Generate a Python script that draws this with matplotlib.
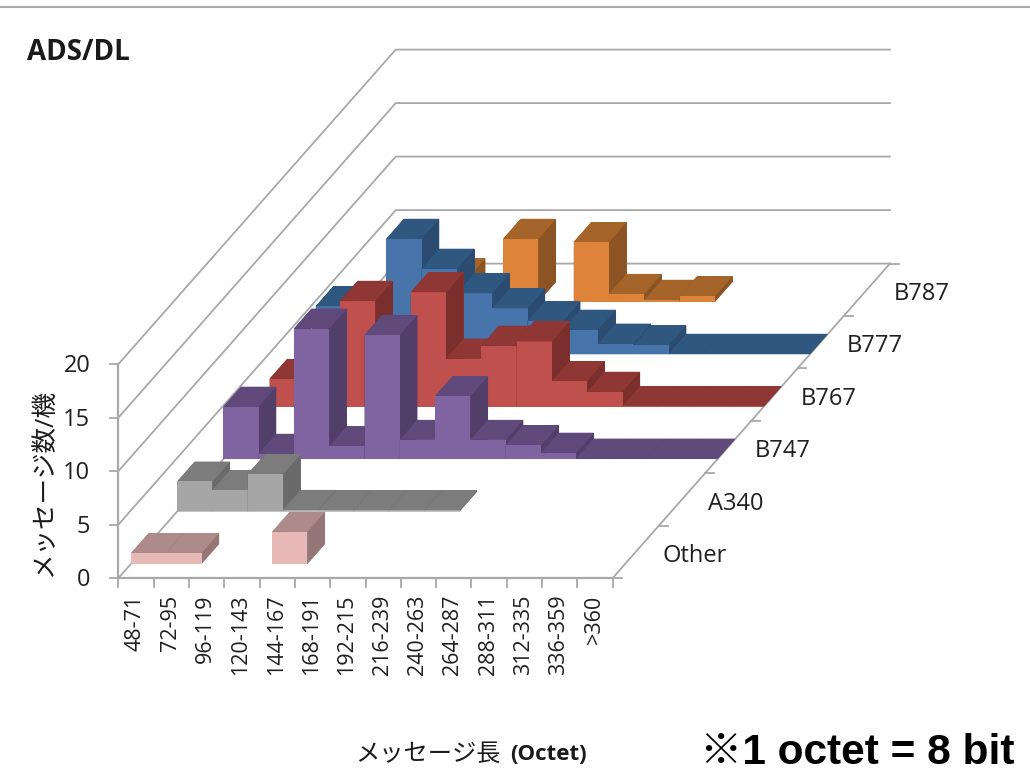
import numpy as np
import matplotlib
matplotlib.use('Agg')
import matplotlib.pyplot as plt
from matplotlib.lines import Line2D

plt.rcParams['font.family'] = ['Open Sans', 'Noto Sans CJK JP', 'DejaVu Sans']

# Datos (mensajes por avion)
categories = ['48-71', '72-95', '96-119', '120-143', '144-167', '168-191', '192-215',
              '216-239', '240-263', '264-287', '288-311', '312-335', '336-359', '>360']
series_names = ['Other', 'A340', 'B747', 'B767', 'B777', 'B787']
z_ticks = [0, 5, 10, 15, 20]

other = [1.0, 1.0, 0, 0, 3.0, 0, 0, 0, 0, 0, 0, 0, 0, 0]
a340 = [2.8, 2.0, 3.5, 0.15, 0.1, 0.1, 0.1, 0.1, 0, 0, 0, 0, 0, 0]
b747 = [4.9, 0.5, 12.2, 1.2, 11.6, 1.8, 5.9, 1.8, 1.3, 0.6, 0.05, 0.05, 0.05, 0.05]
b767 = [2.6, 2.0, 9.9, 2.0, 10.7, 4.5, 5.7, 6.1, 2.4, 1.4, 0.05, 0.05, 0.05, 0.05]
b777 = [4.5, 2.5, 10.8, 8.0, 5.7, 4.3, 3.1, 2.3, 1.0, 0.85, 0.05, 0.05, 0.05, 0.05]
b787 = [0, 0, 2.2, 0, 5.9, 0, 5.6, 0.75, 0.2, 0.55, 0, 0, 0, 0]
values = [other, a340, b747, b767, b777, b787]

# colores: frente, arriba, lado
colors = [('#E6B9B8', '#AD8B8A', '#937675'),
          ('#A6A6A6', '#7C7C7C', '#6A6A6A'),
          ('#8064A2', '#604A7B', '#523F69'),
          ('#C0504D', '#8F3735', '#7A2F2D'),
          ('#4774AA', '#30577F', '#2B4B70'),
          ('#DD843A', '#A5642A', '#8C5424')]
grid_color = '#A8A8A8'
text_color = '#1F1F1F'

W, H = 1030, 772
# Origen y escalas de la proyeccion, en pixeles
OX, OY = 118.5, 194
SX, DX = 35.3, 46.2
DY, SZ = 52.4, 10.7

fig = plt.figure(figsize=(W / 100, H / 100), dpi=100)
ax = fig.add_axes([0, 0, 1, W / H], projection='3d', proj_type='ortho')
ax.set_axis_off()
ax.computed_zorder = False


# Proyeccion oblicua como la de Excel: el eje x queda horizontal y el eje y
# sale en diagonal, sin perspectiva. Pasa de datos a pixeles de la figura.
def oblique_proj():
    x0, x1 = ax.viewLim.intervalx
    y0, y1 = ax.viewLim.intervaly
    sx = (x1 - x0) / W
    sy = (y1 - y0) / W
    return np.array([
        [SX * sx, DX * sx, 0, OX * sx + x0],
        [0, DY * sy, SZ * sy, OY * sy + y0],
        [-0.3, 1, -0.1, 0],
        [0, 0, 0, 1]])


ax.get_proj = oblique_proj


# Posicion de un texto en la figura a partir de coordenadas de datos
def label_pos(x, y, z):
    return (OX + SX * x + DX * y) / W, (OY + DY * y + SZ * z) / H


n_x = len(categories)
n_y = len(series_names)
top = z_ticks[-1]

# Paredes y piso
for z in z_ticks:
    ax.plot([0, 0, n_x], [0, n_y, n_y], [z, z, z], color=grid_color, lw=1.3, zorder=1)
ax.plot([0, 0], [0, 0], [0, top], color=grid_color, lw=1.6, zorder=2)
ax.plot([0, n_x], [0, 0], [0, 0], color=grid_color, lw=1.6, zorder=2)
ax.plot([n_x, n_x], [0, n_y], [0, 0], color=grid_color, lw=1.3, zorder=2)

for i in range(n_x + 1):
    ax.plot([i, i], [0, 0], [0, -0.85], color=grid_color, lw=1.3, zorder=2)
for z in z_ticks:
    ax.plot([-0.25, 0], [0, 0], [z, z], color=grid_color, lw=1.3, zorder=2)
for r in range(n_y + 1):
    ax.plot([n_x, n_x + 0.25], [r, r], [0, 0], color=grid_color, lw=1.3, zorder=2)

# Barras: de atras hacia adelante y de izquierda a derecha
order = 10
for r in range(n_y - 1, -1, -1):
    front, up, side = colors[r]
    for k in range(n_x):
        h = values[r][k]
        if h <= 0:
            continue
        # orden de caras en bar3d: abajo, arriba, frente, atras, izquierda, derecha
        ax.bar3d(k, r + 0.27, 0, 1, 0.38, h, color=[up, up, front, up, side, side],
                 shade=False, linewidth=0, zorder=order)
        order += 1

# Etiquetas de los ejes
for i, cat in enumerate(categories):
    fx, fy = label_pos(i + 0.47, 0, -1.55)
    fig.text(fx, fy, cat, rotation=90, ha='center', va='top', fontsize=15.5, color=text_color)
for z in z_ticks:
    fx, fy = label_pos(-0.8, 0, z - 0.2)
    fig.text(fx, fy, str(z), ha='right', va='center', fontsize=17, color=text_color)
for r, name in enumerate(series_names):
    fx, fy = label_pos(n_x + 0.75, r + 0.5, -0.4)
    fig.text(fx, fy, name, ha='left', va='center', fontsize=17, color=text_color)

fig.text(27 / W, 1 - 52 / H, 'ADS/DL', fontsize=20, fontweight='bold', color='#1A1A1A',
         ha='left', va='center')
fig.text(45 / W, 1 - 483 / H, 'メッセージ数/機', rotation=90, fontsize=18.4,
         color='#1A1A1A', ha='center', va='center')
fig.text(355 / W, 1 - 755 / H, 'メッセージ長', fontsize=17.5, color='#1A1A1A', ha='left', va='center')
fig.text(510 / W, 1 - 755 / H, '(Octet)', fontsize=16, fontweight='bold', color='#1A1A1A',
         ha='left', va='center')
fig.text(700 / W, 1 - 753 / H, '※1 octet = 8 bit', fontsize=30.5, fontweight='bold',
         family=['Liberation Sans', 'Noto Sans CJK JP'], color='black', ha='left', va='center')

# Linea gris de la parte superior de la diapositiva
fig.add_artist(Line2D([0, 1], [1 - 7 / H, 1 - 7 / H], color='#A8A8A8', lw=1.5))

fig.savefig('out.png', dpi=100)
